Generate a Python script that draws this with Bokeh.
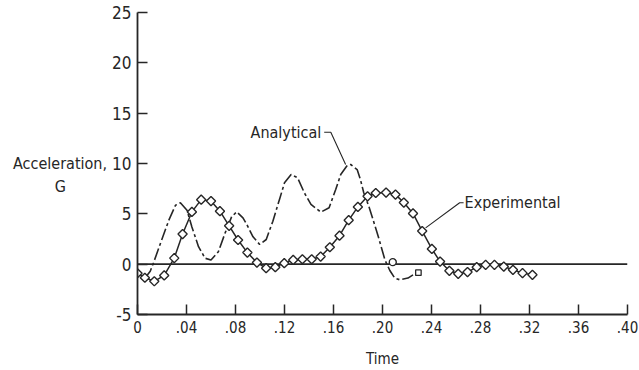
import numpy as np
from bokeh.plotting import figure
from bokeh.models import Range1d, FixedTicker, CustomJSTickFormatter, Label
from bokeh.embed import file_html
from bokeh.resources import INLINE

# ---------------- data ----------------
x_ticks = [0, 0.04, 0.08, 0.12, 0.16, 0.20, 0.24, 0.28, 0.32, 0.36, 0.40]
y_ticks = [-5, 0, 5, 10, 15, 20, 25]

exp_t = [0.0, 0.006, 0.0137, 0.0218, 0.030, 0.0368, 0.0444, 0.052, 0.060, 0.0673,
         0.0748, 0.0821, 0.0897, 0.0975, 0.105, 0.1125, 0.1198, 0.1271, 0.1346, 0.1422,
         0.1495, 0.157, 0.1649, 0.1724, 0.1799, 0.1878, 0.1945, 0.2029, 0.2106, 0.2174,
         0.2249, 0.2324, 0.2403, 0.247, 0.2546, 0.2618, 0.2694, 0.2769, 0.2842, 0.2914,
         0.299, 0.3065, 0.3143, 0.3224]
exp_g = [-0.9, -1.35, -1.7, -1.12, 0.6, 2.99, 5.19, 6.41, 6.27, 5.26,
         3.81, 2.40, 1.15, 0.16, -0.40, -0.30, 0.10, 0.42, 0.49, 0.49,
         0.75, 1.68, 2.83, 4.37, 5.69, 6.74, 7.07, 7.11, 6.91, 6.12,
         5.04, 3.29, 1.51, 0.26, -0.66, -0.96, -0.79, -0.30, -0.07, -0.07,
         -0.24, -0.56, -0.89, -1.06]

ana_t = [0.006, 0.0104, 0.0131, 0.0198, 0.0256, 0.031, 0.035, 0.0404, 0.0444, 0.0498,
         0.0552, 0.060, 0.066, 0.0714, 0.0768, 0.081, 0.0861, 0.089, 0.0943, 0.0997,
         0.1051, 0.1105, 0.1159, 0.120, 0.1254, 0.1307, 0.1362, 0.1416, 0.1497, 0.1564,
         0.1618, 0.1659, 0.1712, 0.174, 0.1793, 0.182, 0.1847, 0.1888, 0.1914, 0.1966,
         0.202, 0.206, 0.210, 0.2141, 0.2208, 0.2249]
ana_g = [-1.4, -0.7, 0.14, 2.43, 4.37, 5.85, 6.1, 5.36, 3.7, 1.74,
         0.59, 0.42, 1.24, 3.06, 4.7, 5.2, 4.6, 4.0, 2.72, 1.96,
         2.45, 4.27, 6.43, 8.08, 8.9, 8.58, 7.09, 5.93, 5.17, 5.6,
         7.42, 8.9, 9.8, 9.9, 9.4, 8.4, 7.09, 5.76, 4.77, 2.72,
         0.42, -0.63, -1.38, -1.55, -1.38, -1.06]

circle_t = [0.2084]
circle_g = [0.2]
square_t = [0.2293]
square_g = [-0.85]

# annotation anchors
ana_label = (0.1500, 13.1)
ana_leader_t = [0.1524, 0.1578, 0.1699]
ana_leader_g = [13.1, 13.1, 9.9]
exp_label = (0.2670, 6.1)
exp_leader_t = [0.2662, 0.2630, 0.2352]
exp_leader_g = [6.1, 6.1, 3.61]

FONT = "DejaVu Sans Condensed"
INK = "#262626"
NBSP = "\u00a0"

p = figure(width=639, height=370, output_backend="svg", toolbar_location=None,
           x_range=Range1d(0, 0.40), y_range=Range1d(-5, 25),
           min_border_left=137, min_border_right=12, min_border_top=12,
           min_border_bottom=55)
p.outline_line_color = None
p.grid.visible = False
p.background_fill_color = "white"
p.border_fill_color = "white"

for ax in (p.xaxis, p.yaxis):
    ax.axis_line_color = INK
    ax.axis_line_width = 1.8
    ax.major_tick_line_color = INK
    ax.major_tick_line_width = 1.5
    ax.major_tick_in = 10
    ax.major_tick_out = 0
    ax.minor_tick_in = 0
    ax.minor_tick_out = 0
    ax.major_label_text_font = FONT
    ax.major_label_text_color = INK
    ax.axis_label_text_font = FONT
    ax.axis_label_text_color = INK
    ax.axis_label_text_font_style = "normal"

p.xaxis.ticker = FixedTicker(ticks=x_ticks)
p.xaxis.formatter = CustomJSTickFormatter(
    code="return Math.abs(tick) < 1e-9 ? '0' : tick.toFixed(2).replace(/^0/, '');")
p.xaxis.major_label_text_font_size = "15px"
p.xaxis.major_label_standoff = 6
p.xaxis.axis_label = "Time"
p.xaxis.axis_label_text_font_size = "15px"
p.xaxis.axis_label_standoff = 14

p.yaxis.ticker = FixedTicker(ticks=y_ticks)
p.yaxis.formatter = CustomJSTickFormatter(code="return tick.toFixed(0);")
p.yaxis.major_label_text_font_size = "17px"
p.yaxis.major_label_standoff = 6
p.yaxis.axis_label = "\nAcceleration,\nG" + NBSP * 9
p.yaxis.axis_label_orientation = "horizontal"
p.yaxis.axis_label_text_align = "center"
p.yaxis.axis_label_text_font_size = "16px"
p.yaxis.axis_label_standoff = 2

# zero reference line
p.line([x_ticks[0], x_ticks[-1]], [0, 0], line_color=INK, line_width=1.8)

# analytical (chain-dashed)
p.line(ana_t, ana_g, line_color=INK, line_width=1.6, line_dash="12 3 3 3")

# experimental
p.line(exp_t, exp_g, line_color=INK, line_width=1.5)
p.scatter(exp_t, exp_g, marker="square", size=6.5, angle=np.pi / 4,
          fill_color="white", line_color=INK, line_width=1.4)

p.scatter(circle_t, circle_g, marker="circle", size=7, fill_color="white",
          line_color=INK, line_width=1.4)
p.scatter(square_t, square_g, marker="square", size=5.5, fill_color="white",
          line_color=INK, line_width=1.3)

# leaders
p.line(ana_leader_t, ana_leader_g, line_color=INK, line_width=1.1)
p.line(exp_leader_t, exp_leader_g, line_color=INK, line_width=1.1)

def lab(x, y, text, size, align="center", baseline="middle"):
    p.add_layout(Label(x=x, y=y, text=text, text_font=FONT, text_font_size=size,
                       text_color=INK, text_align=align, text_baseline=baseline))

lab(ana_label[0], ana_label[1], "Analytical", "16px", align="right")
lab(exp_label[0], exp_label[1], "Experimental", "16px", align="left")

open("out.html", "w").write(file_html(p, INLINE))
